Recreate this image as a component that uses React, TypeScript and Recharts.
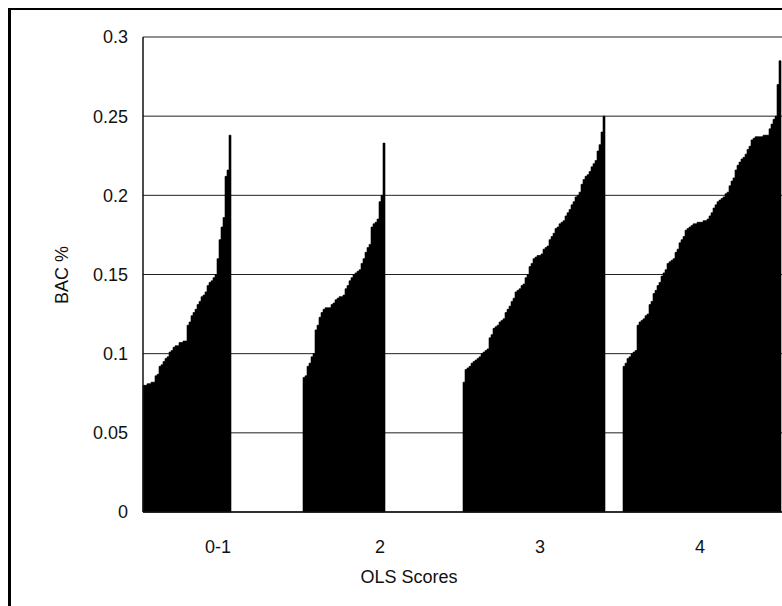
import React from 'react';
import { BarChart, Bar, XAxis, YAxis, CartesianGrid, Label } from 'recharts';

// OLS score categories and BAC % readings, sorted low to high inside each group
const categories = ['0-1', '2', '3', '4'];

const bac01 = [
  0.080, 0.080, 0.081, 0.081, 0.082, 0.082, 0.086, 0.087, 0.092, 0.093,
  0.095, 0.097, 0.098, 0.101, 0.102, 0.104, 0.105, 0.105, 0.107, 0.107,
  0.108, 0.108, 0.118, 0.120, 0.124, 0.126, 0.128, 0.131, 0.133, 0.136,
  0.137, 0.139, 0.143, 0.145, 0.146, 0.148, 0.150, 0.160, 0.172, 0.180,
  0.186, 0.212, 0.216, 0.238,
];

const bac2 = [
  0.085, 0.086, 0.092, 0.094, 0.098, 0.100, 0.115, 0.118, 0.123, 0.126,
  0.128, 0.129, 0.129, 0.129, 0.131, 0.132, 0.134, 0.135, 0.136, 0.136,
  0.137, 0.141, 0.143, 0.146, 0.148, 0.150, 0.151, 0.152, 0.153, 0.157,
  0.160, 0.164, 0.167, 0.169, 0.180, 0.182, 0.183, 0.185, 0.196, 0.200,
  0.233,
];

const bac3 = [
  0.082, 0.090, 0.091, 0.092, 0.094, 0.095, 0.096, 0.097, 0.098, 0.100,
  0.101, 0.102, 0.103, 0.110, 0.112, 0.116, 0.117, 0.118, 0.120, 0.121,
  0.122, 0.126, 0.128, 0.130, 0.133, 0.135, 0.139, 0.140, 0.141, 0.143,
  0.144, 0.148, 0.150, 0.155, 0.157, 0.160, 0.161, 0.162, 0.162, 0.163,
  0.166, 0.167, 0.168, 0.172, 0.174, 0.176, 0.179, 0.180, 0.182, 0.183,
  0.184, 0.187, 0.189, 0.191, 0.194, 0.196, 0.199, 0.200, 0.202, 0.207,
  0.210, 0.212, 0.213, 0.215, 0.218, 0.220, 0.222, 0.228, 0.232, 0.240,
  0.250,
];

const bac4 = [
  0.092, 0.094, 0.097, 0.098, 0.100, 0.101, 0.102, 0.118, 0.120, 0.121,
  0.122, 0.124, 0.125, 0.131, 0.133, 0.138, 0.140, 0.143, 0.145, 0.149,
  0.151, 0.153, 0.157, 0.158, 0.159, 0.160, 0.164, 0.166, 0.170, 0.172,
  0.174, 0.178, 0.179, 0.180, 0.181, 0.182, 0.182, 0.183, 0.183, 0.183,
  0.184, 0.184, 0.185, 0.187, 0.189, 0.192, 0.194, 0.196, 0.197, 0.198,
  0.199, 0.201, 0.202, 0.206, 0.209, 0.211, 0.216, 0.219, 0.221, 0.223,
  0.224, 0.226, 0.229, 0.231, 0.235, 0.236, 0.237, 0.237, 0.237, 0.237,
  0.238, 0.238, 0.238, 0.242, 0.245, 0.248, 0.250, 0.270, 0.285,
];

const yTicks = [0, 0.05, 0.1, 0.15, 0.2, 0.25, 0.3];

// every category gets the same number of bar slots, unused ones stay empty
const SLOTS = 80;
const groups = [bac01, bac2, bac3, bac4];
const rows = groups.flatMap((vals, g) =>
  Array.from({ length: SLOTS }, (_, j) => ({
    slot: `${g}-${j}`,
    bac: j < vals.length ? vals[j] : null,
  }))
);
const labelSlots = ['0-37', '1-38', '2-38', '3-38'];

const font = 'Liberation Sans, Arial, sans-serif';
const tickStyle = { fontSize: 18, fill: '#111', fontFamily: font };

export default function App() {
  return (
    <div
      style={{
        position: 'fixed', left: 0, top: 0, width: 782, height: 606,
        overflow: 'hidden', background: '#fff',
      }}
    >
      <div
        style={{
          position: 'absolute', left: 8, top: 8, width: 820, height: 640,
          borderLeft: '3px solid #000', borderTop: '2px solid #000',
        }}
      />
      <div style={{ position: 'absolute', left: 8, top: 8 }}>
        <BarChart
          width={775}
          height={598}
          data={rows}
          margin={{ top: 29, right: 0, bottom: 34, left: 0 }}
          barCategoryGap={0}
          barGap={0}
        >
          <CartesianGrid vertical={false} stroke="#222" strokeWidth={1} />
          <XAxis
            dataKey="slot"
            ticks={labelSlots}
            interval={0}
            tickFormatter={(v: string) => categories[Number(String(v).split('-')[0])]}
            tickLine={false}
            axisLine={{ stroke: '#111', strokeWidth: 1.5 }}
            tickSize={6}
            tickMargin={22}
            height={60}
            tick={tickStyle}
          >
            <Label
              content={() => (
                <text x={401} y={575} textAnchor="middle" fontSize={18} fontFamily={font} fill="#111">
                  OLS Scores
                </text>
              )}
            />
          </XAxis>
          <YAxis
            domain={[0, 0.3]}
            ticks={yTicks}
            interval={0}
            width={135}
            tickLine={false}
            axisLine={{ stroke: '#111', strokeWidth: 1.5 }}
            tickSize={6}
            tickMargin={9}
            tick={tickStyle}
          >
            <Label
              content={() => (
                <text
                  x={54}
                  y={267}
                  transform="rotate(-90 54 267)"
                  textAnchor="middle"
                  dominantBaseline="central"
                  fontSize={18}
                  fontFamily={font}
                  fill="#111"
                >
                  BAC %
                </text>
              )}
            />
          </YAxis>
          <Bar dataKey="bac" fill="#000" stroke="#000" strokeWidth={0.6} isAnimationActive={false} />
        </BarChart>
      </div>
    </div>
  );
}
